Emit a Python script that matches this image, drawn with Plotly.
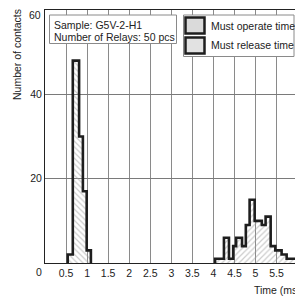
import plotly.graph_objects as go

# ---- data ----
operate_edges = [0.54, 0.66, 0.81, 0.90, 0.99, 1.09]   # ms
operate_counts = [2, 48, 30, 17, 3]

release_edges = [4.04, 4.25, 4.37, 4.47, 4.54, 4.68, 4.77, 4.86, 4.98,
                 5.15, 5.24, 5.36, 5.47, 5.62, 5.74, 5.86, 6.00]
release_counts = [1, 6, 1, 4, 6, 4, 9, 15, 10, 9, 11, 4, 3, 2, 1, 1]

x_tick_vals = [0.5, 1, 1.5, 2, 2.5, 3, 3.5, 4, 4.5, 5, 5.5, 6]
x_tick_text = ["0.5", "1", "1.5", "2", "2.5", "3", "3.5", "4", "4.5", "5", "5.5", "6"]
y_tick_vals = [20, 40]
y_tick_text = ["20", "40"]
y_top_label = "60"

sample_lines = ["Sample: G5V-2-H1", "Number of Relays: 50 pcs"]
series_names = ["Must operate time", "Must release time"]
x_title = "Time (ms)"
y_title = "Number of contacts"

FONT = "Liberation Sans, Arial, sans-serif"
TXT = "#222222"

W, H = 295, 298
L, T, R, B = 45, 10, 0, 35
PW, PH = W - L - R, H - T - B
PX_PER_MS = 42.1


def px(x):  # window pixel -> paper fraction
    return (x - L) / PW


def py(y):
    return 1 - (y - T) / PH


def step_xy(edges, counts):
    xs = [edges[0]] + list(edges[:-1]) + [edges[-1]]
    ys = [0] + list(counts) + [0]
    return xs, ys


fig = go.Figure()
for edges, counts, name, pat in [
    (operate_edges, operate_counts, series_names[0], "\\"),
    (release_edges, release_counts, series_names[1], "/"),
]:
    xs, ys = step_xy(edges, counts)
    fig.add_trace(go.Scatter(
        x=xs, y=ys, mode="lines", name=name, showlegend=False,
        line=dict(shape="hv", color="#1e1e1e", width=2.6),
        fill="tozeroy", fillcolor="rgba(0,0,0,0)",
        fillpattern=dict(shape=pat, fgcolor="#9a9a9a", bgcolor="rgba(255,255,255,0)",
                         size=4, solidity=0.3),
        hoverinfo="skip",
    ))

fig.update_xaxes(
    range=[0, PW / PX_PER_MS], tickvals=x_tick_vals, ticktext=x_tick_text,
    showgrid=True, gridcolor="#8a8a8a", gridwidth=1,
    showline=True, linecolor="#222", linewidth=1, mirror=True,
    ticks="", zeroline=False,
    tickfont=dict(family=FONT, size=10.5, color=TXT),
)
fig.update_yaxes(
    range=[0, 60], tickvals=y_tick_vals, ticktext=y_tick_text,
    showgrid=True, gridcolor="#7a7a7a", gridwidth=1,
    showline=True, linecolor="#222", linewidth=1, mirror=False,
    ticks="", zeroline=False,
    tickfont=dict(family=FONT, size=10.5, color=TXT),
)

shapes = [
    # sample info box
    dict(type="rect", xref="paper", yref="paper", layer="above",
         x0=px(49.5), x1=px(176.5), y0=py(43.5), y1=py(15),
         line=dict(color="#8a8a8a", width=1), fillcolor="white"),
    # legend box
    dict(type="rect", xref="paper", yref="paper", layer="above",
         x0=px(183.5), x1=px(294), y0=py(56.5), y1=py(15),
         line=dict(color="#8a8a8a", width=1), fillcolor="white"),
    # legend swatches
    dict(type="rect", xref="paper", yref="paper", layer="above",
         x0=px(185.5), x1=px(204.5), y0=py(33.5), y1=py(17.5),
         line=dict(color="#1e1e1e", width=2.5), fillcolor="#dadada"),
    dict(type="rect", xref="paper", yref="paper", layer="above",
         x0=px(185.5), x1=px(204.5), y0=py(53.5), y1=py(37.5),
         line=dict(color="#1e1e1e", width=2.5), fillcolor="#e2e2e2"),
]

f = dict(family=FONT, size=10.5, color=TXT)
annotations = [
    dict(text=sample_lines[0], x=px(52), y=py(25), xanchor="left", yanchor="middle"),
    dict(text=sample_lines[1], x=px(52), y=py(36.7), xanchor="left", yanchor="middle"),
    dict(text=series_names[0], x=px(209), y=py(25.7), xanchor="left", yanchor="middle"),
    dict(text=series_names[1], x=px(209), y=py(45), xanchor="left", yanchor="middle"),
    dict(text=y_title, x=px(17), y=py(55), xanchor="center", yanchor="middle", textangle=-90),
    dict(text=x_title, x=px(251.7), y=py(290), xanchor="left", yanchor="middle"),
    dict(text="0", x=px(39), y=py(271.7), xanchor="center", yanchor="middle"),
    dict(text=y_top_label, x=px(43), y=py(15), xanchor="right", yanchor="middle"),
]
for a in annotations:
    a.update(xref="paper", yref="paper", showarrow=False, font=f)

fig.update_layout(
    width=W, height=H,
    margin=dict(l=L, r=R, t=T, b=B, pad=0),
    paper_bgcolor="white", plot_bgcolor="white",
    shapes=shapes, annotations=annotations,
    showlegend=False,
)

fig.write_html(
    "out.html",
    config={"displayModeBar": False},
    post_script="document.body.style.margin='0';document.body.style.overflow='hidden';",
)
